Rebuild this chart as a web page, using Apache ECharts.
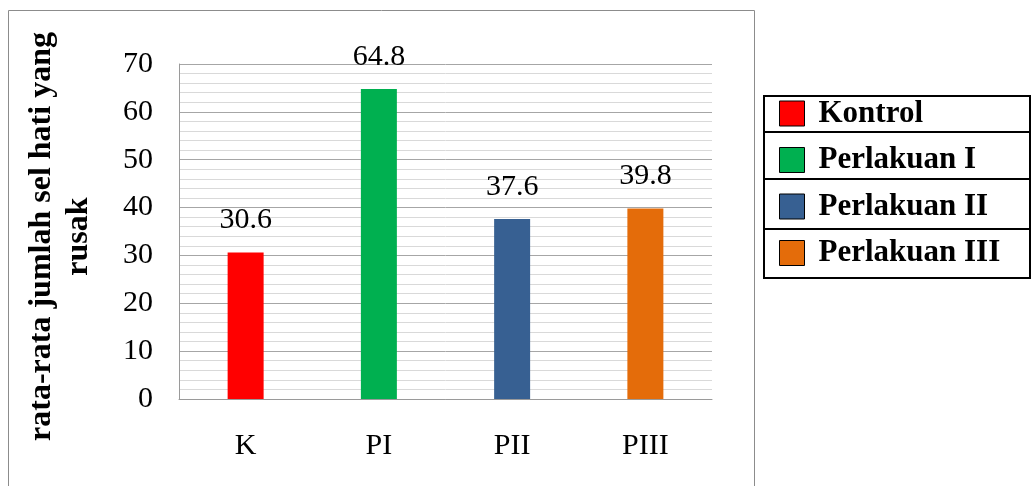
<!DOCTYPE html>
<html>
<head>
<meta charset="utf-8">
<script src="https://cdn.jsdelivr.net/npm/echarts@6/dist/echarts.min.js"></script>
<style>
  html, body { margin: 0; padding: 0; background: #fff; }
  #chart { width: 1035px; height: 486px; }
</style>
</head>
<body>
<div id="chart"></div>
<script>
  var categories = ['K', 'PI', 'PII', 'PIII'];
  var seriesNames = ['Kontrol', 'Perlakuan I', 'Perlakuan II', 'Perlakuan III'];
  var values = [30.6, 64.8, 37.6, 39.8];
  var colors = ['#ff0000', '#00b050', '#376092', '#e46c0a'];

  var font = '"Liberation Serif", "Times New Roman", serif';

  // satu seri per kategori supaya legenda punya 4 entri
  var series = seriesNames.map(function (name, i) {
    return {
      name: name,
      type: 'bar',
      stack: 'all',
      barWidth: 36,
      itemStyle: { color: colors[i] },
      label: {
        show: true,
        position: 'top',
        distance: 17,
        fontFamily: font,
        fontSize: 30,
        color: '#000'
      },
      data: categories.map(function (c, j) { return j === i ? values[i] : '-'; })
    };
  });

  var chart = echarts.init(document.getElementById('chart'));
  chart.setOption({
    animation: false,
    textStyle: { fontFamily: font },
    graphic: [
      { type: 'rect', shape: { x: 8.5, y: 10.5, width: 746, height: 500 },
        style: { fill: 'none', stroke: '#8c8c8c', lineWidth: 1 }, z: -1 },
      { type: 'rect', shape: { x: 764, y: 96, width: 266, height: 182 },
        style: { fill: 'none', stroke: '#000', lineWidth: 2 } },
      { type: 'line', shape: { x1: 764, y1: 132, x2: 1030, y2: 132 }, style: { stroke: '#000', lineWidth: 2 } },
      { type: 'line', shape: { x1: 764, y1: 179, x2: 1030, y2: 179 }, style: { stroke: '#000', lineWidth: 2 } },
      { type: 'line', shape: { x1: 764, y1: 229, x2: 1030, y2: 229 }, style: { stroke: '#000', lineWidth: 2 } }
    ],
    legend: {
      orient: 'vertical',
      left: 774,
      top: 93,
      itemWidth: 25,
      itemHeight: 25,
      itemGap: 15.5,
      icon: 'rect',
      selectedMode: false,
      itemStyle: { borderColor: '#000', borderWidth: 1 },
      textStyle: { fontFamily: font, fontSize: 31, fontWeight: 'bold', color: '#000', padding: [0, 0, 0, 9] },
      data: seriesNames
    },
    grid: { left: 179, right: 323, top: 64, bottom: 87, outerBoundsMode: 'none' },
    xAxis: {
      type: 'category',
      data: categories,
      axisLine: { lineStyle: { color: '#9a9a9a', width: 1 } },
      axisTick: { show: false },
      axisLabel: { fontFamily: font, fontSize: 30, color: '#000', margin: 32 }
    },
    yAxis: {
      type: 'value',
      min: 0,
      max: 70,
      interval: 10,
      name: 'rata-rata jumlah sel hati yang\nrusak',
      nameLocation: 'middle',
      nameRotate: 90,
      nameGap: 82,
      nameTextStyle: { fontFamily: font, fontSize: 32, fontWeight: 'bold', color: '#000', lineHeight: 37, padding: [0, 10, 0, 0] },
      axisLine: { show: true, lineStyle: { color: '#9a9a9a', width: 1 } },
      axisTick: { show: false },
      axisLabel: { fontFamily: font, fontSize: 30, color: '#000', margin: 26 },
      splitLine: { lineStyle: { color: '#a6a6a6', width: 1 } },
      minorTick: { show: false, splitNumber: 5 },
      minorSplitLine: { show: true, lineStyle: { color: '#d9d9d9', width: 1 } }
    },
    series: series
  });
</script>
</body>
</html>
